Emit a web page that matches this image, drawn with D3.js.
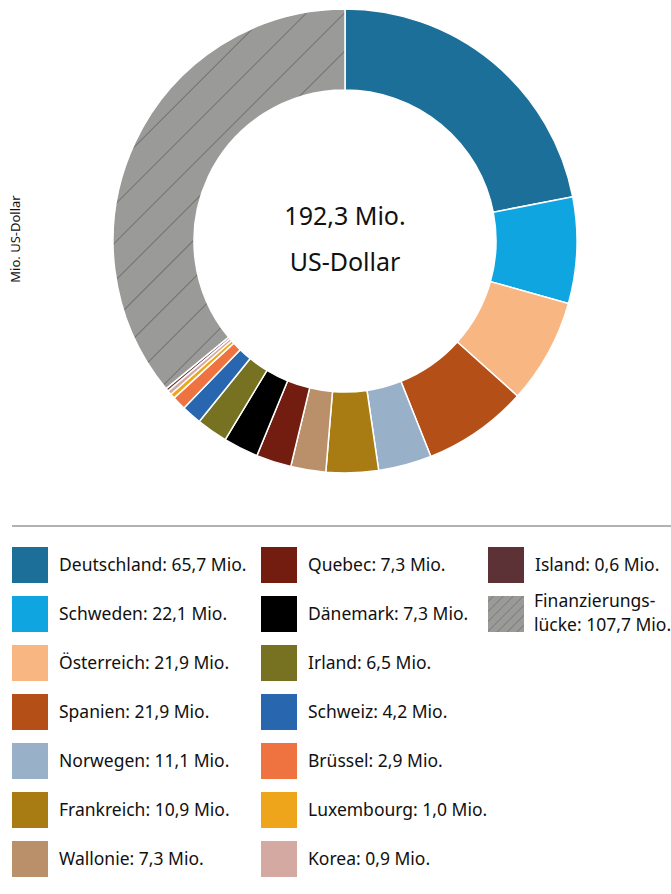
<!DOCTYPE html>
<html><head><meta charset="utf-8">
<script src="https://cdn.jsdelivr.net/npm/d3@7"></script>
<style>body{margin:0;background:#fff;font-family:"Noto Sans",sans-serif;}</style>
</head><body>
<svg id="chart" width="671" height="894"></svg>
<script>
const categories = ["Deutschland","Schweden","Österreich","Spanien","Norwegen","Frankreich","Wallonie","Quebec","Dänemark","Irland","Schweiz","Brüssel","Luxembourg","Korea","Island","Finanzierungslücke"];
const values = [65.7,22.1,21.9,21.9,11.1,10.9,7.3,7.3,7.3,6.5,4.2,2.9,1.0,0.9,0.6,107.7];
const colors = ["#1b6f98","#0ea5e0","#f8b683","#b44f18","#98b0c8","#a87c13","#b99069","#731c10","#000000","#767221","#2866b0","#ee7341","#eea51b","#d4a9a1","#5c3237","#9a9a98"];
const legendLabels = ["Deutschland: 65,7 Mio.","Schweden: 22,1 Mio.","Österreich: 21,9 Mio.","Spanien: 21,9 Mio.","Norwegen: 11,1 Mio.","Frankreich: 10,9 Mio.","Wallonie: 7,3 Mio.","Quebec: 7,3 Mio.","Dänemark: 7,3 Mio.","Irland: 6,5 Mio.","Schweiz: 4,2 Mio.","Brüssel: 2,9 Mio.","Luxembourg: 1,0 Mio.","Korea: 0,9 Mio.","Island: 0,6 Mio.",["Finanzierungs-","lücke: 107,7 Mio."]];
const centerText = ["192,3 Mio.","US-Dollar"];
const axisLabel = "Mio. US-Dollar";

const svg = d3.select("#chart");
const defs = svg.append("defs");
function hatch(id, step, w){
  const p = defs.append("pattern").attr("id",id).attr("patternUnits","userSpaceOnUse")
    .attr("width",step).attr("height",step).attr("patternTransform","rotate(45)");
  p.append("rect").attr("width",step).attr("height",step).attr("fill","#9a9a98");
  p.append("line").attr("x1",0).attr("y1",0).attr("x2",0).attr("y2",step).attr("stroke","#555").attr("stroke-width",w);
}
hatch("hatchBig",27,1.2);
hatch("hatchSmall",7,0.8);

const cx=345, cy=241, R=232, r=151;
const data = categories.map((c,i)=>({c, v:values[i], col:colors[i], i}));
const pie = d3.pie().value(d=>d.v).sort(null);
const arc = d3.arc().innerRadius(r).outerRadius(R);
const g = svg.append("g").attr("transform",`translate(${cx},${cy})`);
g.selectAll("path").data(pie(data)).join("path")
  .attr("d",arc)
  .attr("fill",d=>d.data.i===15?"url(#hatchBig)":d.data.col)
  .attr("stroke","#fff").attr("stroke-width",1.5);

g.append("text").attr("text-anchor","middle").attr("y",-16).attr("font-size",25).attr("fill","#111").text(centerText[0]);
g.append("text").attr("text-anchor","middle").attr("y",30).attr("font-size",25).attr("fill","#111").text(centerText[1]);

svg.append("text").attr("transform","translate(20,239) rotate(-90)").attr("text-anchor","middle")
  .attr("font-size",13).attr("fill","#111").text(axisLabel);

svg.append("line").attr("x1",12).attr("x2",671).attr("y1",526).attr("y2",526).attr("stroke","#666").attr("stroke-width",1.2);

const colX=[12,261,488], rowY0=547, pitch=49;
const leg = svg.append("g");
data.forEach((d,i)=>{
  const col = Math.floor(i/7), row = i%7;
  const x = colX[col], y = rowY0 + row*pitch;
  leg.append("rect").attr("x",x).attr("y",y).attr("width",36).attr("height",36)
    .attr("fill", i===15?"url(#hatchSmall)":d.col);
  const lab = legendLabels[i];
  if (Array.isArray(lab)){
    leg.append("text").attr("font-size",17.5).attr("fill","#111").attr("x",x+46).attr("y",y+11).text(lab[0]);
    leg.append("text").attr("font-size",17.5).attr("fill","#111").attr("x",x+46).attr("y",y+35).text(lab[1]);
  } else {
    leg.append("text").attr("x",x+47).attr("y",y+24).attr("font-size",17.5).attr("fill","#111").text(lab);
  }
});
</script>
</body></html>
